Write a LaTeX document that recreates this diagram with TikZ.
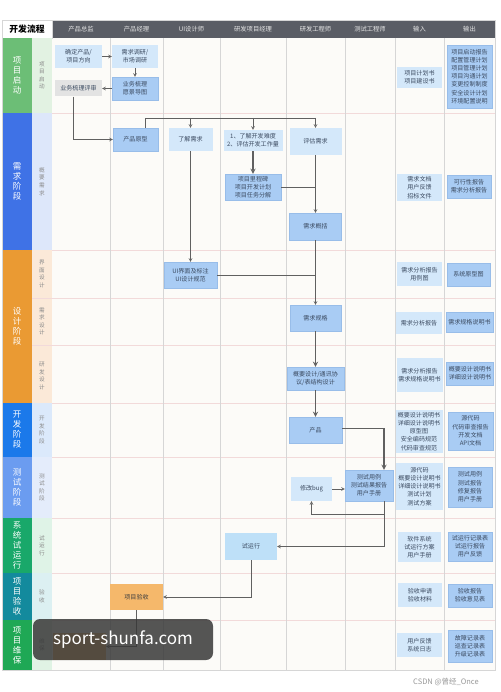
\documentclass[tikz,border=0pt]{standalone}
\usepackage{fontspec}
\setmainfont{Noto Sans CJK SC}
\usetikzlibrary{arrows.meta,positioning}

\definecolor{headbar}{HTML}{5A5D65}
\definecolor{headtext}{HTML}{E6E6E6}
\definecolor{mainbg}{HTML}{FCFBF8}
\definecolor{laneline}{HTML}{D6D6D6}
\definecolor{rowline}{HTML}{F2DADA}
\definecolor{boxlight}{HTML}{D4E8FA}
\definecolor{boxmid}{HTML}{A9CCF4}
\definecolor{boxmidline}{HTML}{98BDE9}
\definecolor{boxgray}{HTML}{E3E3E3}
\definecolor{boxorange}{HTML}{F5B86B}
\definecolor{boxtrial}{HTML}{BEE0F8}
\definecolor{boxtext}{HTML}{3B4A60}
\definecolor{linegray}{HTML}{606060}
\definecolor{subtext}{HTML}{8A8A8A}
\definecolor{phA}{HTML}{6CBE76}
\definecolor{phB}{HTML}{3F72E6}
\definecolor{phC}{HTML}{EA9A33}
\definecolor{phD}{HTML}{1B79EA}
\definecolor{phE}{HTML}{6B9CF0}
\definecolor{phF}{HTML}{19A86A}
\definecolor{phG}{HTML}{138A9D}
\definecolor{phH}{HTML}{1FA855}
\definecolor{subA}{HTML}{E2F2E2}
\definecolor{subB}{HTML}{DDE7FA}
\definecolor{subC}{HTML}{FBE9D8}
\definecolor{subD}{HTML}{DBE9FB}
\definecolor{subE}{HTML}{E4ECFB}
\definecolor{subF}{HTML}{DFF3E7}
\definecolor{subG}{HTML}{DCF0F2}
\definecolor{subH}{HTML}{E0F3E4}

\begin{document}
\begin{tikzpicture}[x=1pt, y=-1pt, >=stealth,
    lt/.style={fill=boxlight, text=boxtext, align=center, inner sep=1pt, font=\fontsize{6.05}{8.2}\selectfont},
    md/.style={lt, fill=boxmid, draw=boxmidline, line width=0.3pt},
    gr/.style={lt, fill=boxgray},
    og/.style={lt, fill=boxorange, text=black!75},
    link/.style={draw=linegray, line width=0.6pt},
    flow/.style={link, ->},
    bigflow/.style={draw=linegray, line width=1.3pt, ->},
    phase/.style={text=white, align=center, font=\fontsize{8.5}{10}\selectfont},
    subphase/.style={text=subtext, align=center, font=\fontsize{5.6}{7.6}\selectfont},
    colhead/.style={text=headtext, font=\fontsize{6.3}{7}\selectfont}]
    \fill[white] (0,0) rectangle (500,692);
    \fill[mainbg] (52,38) rectangle (495,670);
    \fill[headbar] (52,20) rectangle (495,38);
    \node[draw=laneline, fill=white, minimum width=50pt, minimum height=18pt, font=\fontsize{8.8}{9}\selectfont\bfseries] (title) at (27,29) {开发流程};
    \node[colhead] (h1) at (81,29) {产品总监};
    \node[colhead] (h2) at (136.5,29) {产品经理};
    \node[colhead] (h3) at (191.5,29) {UI设计师};
    \node[colhead] (h4) at (253,29) {研发项目经理};
    \node[colhead] (h5) at (315.5,29) {研发工程师};
    \node[colhead] (h6) at (370,29) {测试工程师};
    \node[colhead] (h7) at (419.5,29) {输入};
    \node[colhead] (h8) at (469.5,29) {输出};

    \fill[phA] (2,38) rectangle (32,113);   \fill[subA] (32,38) rectangle (52,113);
    \fill[phB] (2,113) rectangle (32,250);  \fill[subB] (32,113) rectangle (52,250);
    \fill[phC] (2,250) rectangle (32,403);  \fill[subC] (32,250) rectangle (52,403);
    \fill[phD] (2,403) rectangle (32,457);  \fill[subD] (32,403) rectangle (52,457);
    \fill[phE] (2,457) rectangle (32,518);  \fill[subE] (32,457) rectangle (52,518);
    \fill[phF] (2,518) rectangle (32,573);  \fill[subF] (32,518) rectangle (52,573);
    \fill[phG] (2,573) rectangle (32,620);  \fill[subG] (32,573) rectangle (52,620);
    \fill[phH] (2,620) rectangle (32,670);  \fill[subH] (32,620) rectangle (52,670);

    \draw[rowline] (52,113) -- (495,113);
    \draw[rowline] (52,250) -- (495,250);
    \draw[rowline] (32,298) -- (495,298);
    \draw[rowline] (32,345) -- (495,345);
    \draw[rowline] (52,403) -- (495,403);
    \draw[rowline] (52,457) -- (495,457);
    \draw[rowline] (52,518) -- (495,518);
    \draw[rowline] (52,573) -- (495,573);
    \draw[rowline] (52,620) -- (495,620);
    \draw[laneline, line width=1pt] (110,38) -- (110,670);
    \draw[laneline, line width=1pt] (163,38) -- (163,670);
    \draw[laneline, line width=1pt] (220,38) -- (220,670);
    \draw[laneline, line width=1pt] (286,38) -- (286,670);
    \draw[laneline, line width=1pt] (345,38) -- (345,670);
    \draw[laneline, line width=1pt] (395,38) -- (395,670);
    \draw[laneline, line width=1pt] (444,38) -- (444,670);
    \draw[laneline] (2,20) rectangle (495,670);

    \node[phase] (p1) at (17,75.5) {项\\目\\启\\动};
    \node[phase] (p2) at (17,181.5) {需\\求\\阶\\段};
    \node[phase] (p3) at (17,326.5) {设\\计\\阶\\段};
    \node[phase] (p4) at (17,430) {开\\发\\阶\\段};
    \node[phase] (p5) at (17,487.5) {测\\试\\阶\\段};
    \node[phase] (p6) at (17,545.5) {系\\统\\试\\运\\行};
    \node[phase] (p7) at (17,596.5) {项\\目\\验\\收};
    \node[phase] (p8) at (17,645) {项\\目\\维\\保};
    \node[subphase] (s1) at (42,75.5) {项\\目\\启\\动};
    \node[subphase] (s2) at (42,181.5) {概\\要\\需\\求};
    \node[subphase] (s3) at (42,274) {界\\面\\设\\计};
    \node[subphase] (s4) at (42,321.5) {需\\求\\设\\计};
    \node[subphase] (s5) at (42,376) {研\\发\\设\\计};
    \node[subphase] (s6) at (42,430) {开\\发\\阶\\段};
    \node[subphase] (s7) at (42,487.5) {测\\试\\阶\\段};
    \node[subphase] (s8) at (42,545.5) {试\\运\\行};
    \node[subphase] (s9) at (42,596.5) {验\\收};
    \node[subphase] (s10) at (42,645) {维\\保};

    \node[lt, minimum width=47pt, minimum height=23pt] (qdcp) at (78.5,56.5) {确定产品/\\项目方向};
    \node[lt, minimum width=46pt, minimum height=23pt] (xqdy) at (135,56.5) {需求调研/\\市场调研};
    \node[md, minimum width=46pt, minimum height=23pt] (ywsl) at (135,88.5) {业务梳理\\愿景导图};
    \node[gr, minimum width=47pt, minimum height=16pt] (ywps) at (78.5,88.5) {业务梳理评审};
    \node[lt, minimum width=45pt, minimum height=21pt] (in1) at (419.5,77.5) {项目计划书\\项目建设书};
    \node[md, minimum width=45pt, minimum height=63pt] (out1) at (469.5,76.5) {项目启动报告\\配置管理计划\\项目管理计划\\项目沟通计划\\变更控制制度\\安全设计计划\\环境配置说明};

    \node[md, minimum width=45pt, minimum height=23pt] (cpyx) at (135.5,139.5) {产品原型};
    \node[lt, minimum width=44pt, minimum height=23pt] (ljxq) at (190.5,139.5) {了解需求};
    \node[lt, minimum width=59pt, minimum height=21pt] (ljnd) at (253,140.5) {1、了解开发难度\\2、评估开发工作量};
    \node[lt, minimum width=52pt, minimum height=27pt] (pgxq) at (315.5,141.5) {评估需求};
    \node[md, minimum width=56pt, minimum height=26pt] (xmlc) at (253,187) {项目里程碑\\项目开发计划\\项目任务分解};
    \node[md, minimum width=52pt, minimum height=27pt] (xqgk) at (315.5,226.5) {需求概括};
    \node[lt, minimum width=45pt, minimum height=27pt] (in2) at (419.5,187.5) {需求文档\\用户反馈\\招标文件};
    \node[md, minimum width=44pt, minimum height=23pt] (out2) at (469,186.5) {可行性报告\\需求分析报告};

    \node[md, minimum width=53pt, minimum height=26pt] (uijm) at (190.5,275) {UI界面及标注\\UI设计规范};
    \node[lt, minimum width=45pt, minimum height=24pt] (in3) at (419.5,274) {需求分析报告\\用例图};
    \node[md, minimum width=43pt, minimum height=23pt] (out3) at (468.5,274.5) {系统原型图};
    \node[md, minimum width=51pt, minimum height=26pt] (xqgg) at (315.5,318) {需求规格};
    \node[lt, minimum width=46pt, minimum height=22pt] (in4) at (419,323) {需求分析报告};
    \node[md, minimum width=47pt, minimum height=20pt] (out4) at (469.5,322) {需求规格说明书};
    \node[md, minimum width=57pt, minimum height=23pt] (gysj) at (315.5,378.5) {概要设计/通讯协\\议/表结构设计};
    \node[lt, minimum width=46pt, minimum height=34pt] (in5) at (419.5,375) {需求分析报告\\需求规格说明书};
    \node[md, minimum width=47pt, minimum height=23pt] (out5) at (470,373.5) {概要设计说明书\\详细设计说明书};

    \node[md, minimum width=53pt, minimum height=26pt] (cp) at (315.5,430) {产品};
    \node[lt, minimum width=47pt, minimum height=43pt] (in6) at (419,431.5) {概要设计说明书\\详细设计说明书\\原型图\\安全编码规范\\代码审查规范};
    \node[md, minimum width=45pt, minimum height=38pt] (out6) at (470.5,431) {源代码\\代码审查报告\\开发文档\\API文档};

    \node[md, minimum width=48pt, minimum height=31pt] (csyl) at (369,485.5) {测试用例\\测试结果报告\\用户手册};
    \node[lt, minimum width=41pt, minimum height=24pt] (xgbug) at (311.5,489) {修改bug};
    \node[lt, minimum width=47pt, minimum height=47pt] (in7) at (419.5,486.5) {源代码\\概要设计说明书\\详细设计说明书\\测试计划\\测试方案};
    \node[md, minimum width=44pt, minimum height=40pt] (out7) at (470,487) {测试用例\\测试报告\\修复报告\\用户手册};

    \node[lt, fill=boxtrial, minimum width=52pt, minimum height=27pt] (syx) at (251,546.5) {试运行};
    \node[lt, minimum width=43pt, minimum height=30pt] (in8) at (419.5,547) {软件系统\\试运行方案\\用户手册};
    \node[md, minimum width=44pt, minimum height=29pt] (out8) at (470,546.5) {试运行记录表\\试运行报告\\用户反馈};

    \node[og, minimum width=53pt, minimum height=26pt] (xmys) at (136.5,597) {项目验收};
    \node[lt, minimum width=44pt, minimum height=24pt] (in9) at (420,595) {验收申请\\验收材料};
    \node[md, minimum width=44pt, minimum height=23pt] (out9) at (470,595.5) {验收报告\\验收意见表};

    \node[og, minimum width=53pt, minimum height=27pt] (whbox) at (79.5,646.5) {};
    \node[lt, minimum width=45pt, minimum height=24pt] (in10) at (419.5,645) {用户反馈\\系统日志};
    \node[md, minimum width=44pt, minimum height=32pt] (out10) at (470,646) {故障记录表\\巡查记录表\\升级记录表};

    \coordinate (bus) at (315.5,118);
    \coordinate (cpturn) at (384,428);
    \coordinate (tbk) at (384,514);
    \coordinate (tdn) at (384,546.5);

    \draw[flow] (qdcp) -- (xqdy);
    \draw[flow] (xqdy) -- (ywsl);
    \draw[flow] (ywsl) -- (ywps);
    \draw[flow] ([xshift=-5pt]ywps.south) |- (cpyx.west);
    \draw[link] ([xshift=10pt]cpyx.north) |- (bus);
    \draw[flow] (bus -| ljxq) -- (ljxq);
    \draw[flow] (bus -| ljnd) -- (ljnd);
    \draw[flow] (bus) -- (pgxq);
    \draw[bigflow] (ljnd) -- (xmlc);
    \draw[flow] (pgxq) -- (xqgk);
    \draw[link] (xmlc.east) -- (xmlc.east -| xqgk);
    \draw[flow] (ljxq) -- (uijm);
    \draw[flow] (xqgk) -- (xqgg);
    \draw[link] (uijm.east) -- (uijm.east -| xqgg);
    \draw[bigflow] (xqgg) -- (gysj);
    \draw[bigflow] (gysj) -- (cp);
    \draw[link] (cp.east |- cpturn) -- (cpturn);
    \draw[bigflow] (cpturn) -- (cpturn |- csyl.north);
    \draw[flow] (xgbug.east) -- (xgbug.east -| csyl.west);
    \draw[link] (tdn |- csyl.south) -- (tdn);
    \draw[flow] (tbk) -| (xgbug);
    \draw[flow] (tdn) -- (syx);
    \draw[flow] (syx) |- (xmys);
    \draw[flow] (xmys) |- (whbox);

    \node[fill=black!78, fill opacity=0.85, text opacity=1, rounded corners=7pt, minimum width=180pt, minimum height=41pt, text=white, font=\fontsize{17}{17}\selectfont] (wm) at (123,639.5) {sport-shunfa.com};
    \node[text=black!40, font=\fontsize{7.5}{8}\selectfont] (csdn) at (446,682) {CSDN @曾经\_Once};
\end{tikzpicture}
\end{document}
